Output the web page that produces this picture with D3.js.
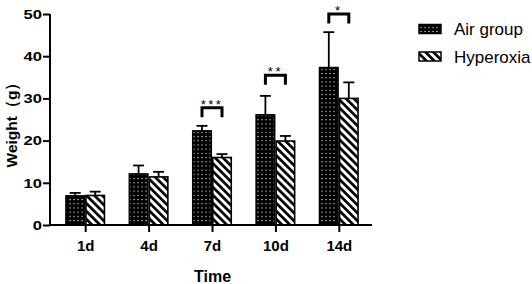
<!DOCTYPE html>
<html>
<head>
<meta charset="utf-8">
<script src="https://cdn.jsdelivr.net/npm/d3@7"></script>
<style>
  html, body { margin: 0; padding: 0; background: #fff; }
  svg { display: block; font-family: Arial, "Liberation Sans", sans-serif; }
</style>
</head>
<body>
<svg id="chart" width="532" height="284"></svg>
<script>
const categories = ["1d", "4d", "7d", "10d", "14d"];
const seriesNames = ["Air group", "Hyperoxia"];
const airMean = [6.9, 12.1, 22.3, 26.1, 37.3];
const airSD   = [0.7, 2.0, 1.2, 4.5, 8.4];
const hypMean = [7.0, 11.4, 16.0, 19.9, 30.0];
const hypSD   = [0.9, 1.2, 0.8, 1.2, 3.8];
const yTicks = [0, 10, 20, 30, 40, 50];
const sigCategories = ["7d", "10d", "14d"];
const sigLabels = ["***", "**", "*"];
const sigLevel = [27.8, 35.5, 50];

const svg = d3.select("#chart");
const defs = svg.append("defs");

// dotted pattern (Air group)
const pd = defs.append("pattern").attr("id", "dots")
  .attr("patternUnits", "userSpaceOnUse").attr("width", 4).attr("height", 4.2);
pd.append("rect").attr("width", 4).attr("height", 4.2).attr("fill", "#000");
pd.append("rect").attr("x", 1.5).attr("y", 1.6).attr("width", 1.1).attr("height", 1.1).attr("fill", "#fff");

// diagonal stripes (Hyperoxia)
const ps = defs.append("pattern").attr("id", "stripes")
  .attr("patternUnits", "userSpaceOnUse").attr("width", 5.6).attr("height", 5.6)
  .attr("patternTransform", "rotate(-45)");
ps.append("rect").attr("width", 5.6).attr("height", 5.6).attr("fill", "#fff");
ps.append("rect").attr("width", 2.7).attr("height", 5.6).attr("fill", "#000");

const fills = ["url(#dots)", "url(#stripes)"];

const y = d3.scaleLinear().domain([0, 50]).range([225, 14]);
const x = d3.scalePoint().domain(categories).range([53.5, 370.5]).padding(0.5);
const xs = d3.scaleBand().domain(seriesNames).range([-20, 20]).padding(0);

const data = [];
categories.forEach((c, i) => {
  data.push({cat: c, s: seriesNames[0], v: airMean[i], sd: airSD[i]});
  data.push({cat: c, s: seriesNames[1], v: hypMean[i], sd: hypSD[i]});
});

// error bars (behind bars)
const eb = svg.append("g").attr("stroke", "#000").attr("stroke-width", 1.8);
data.forEach(d => {
  const cx = x(d.cat) + xs(d.s) + xs.bandwidth() / 2;
  eb.append("line").attr("x1", cx).attr("x2", cx).attr("y1", y(d.v)).attr("y2", y(d.v + d.sd));
  eb.append("line").attr("x1", cx - 5.5).attr("x2", cx + 5.5).attr("y1", y(d.v + d.sd)).attr("y2", y(d.v + d.sd));
});

// bars
svg.append("g").selectAll("rect").data(data).join("rect")
  .attr("x", d => x(d.cat) + xs(d.s) + 0.75)
  .attr("y", d => y(d.v))
  .attr("width", xs.bandwidth() - 1.5)
  .attr("height", d => y(0) - y(d.v))
  .attr("fill", d => fills[seriesNames.indexOf(d.s)])
  .attr("stroke", "#000").attr("stroke-width", 1.6);

// axes
const yAxis = svg.append("g").attr("transform", "translate(50,0)")
  .call(d3.axisLeft(y).tickValues(yTicks).tickSize(7).tickFormat(d3.format("d")));
yAxis.select(".domain").attr("d", `M0,${y(50)}V${y(0)}`).attr("stroke-width", 2);
yAxis.selectAll(".tick line").attr("stroke-width", 2);
yAxis.selectAll(".tick text").remove();
yAxis.selectAll(".tick").append("text")
  .attr("transform", "translate(-8,0) scale(1.38,1)")
  .attr("text-anchor", "end").attr("dy", "0.36em")
  .attr("fill", "#000").attr("font-size", 12).attr("font-weight", "bold")
  .attr("font-family", "Arial, 'Liberation Sans', sans-serif")
  .text(d => d);

const xAxis = svg.append("g").attr("transform", `translate(0,${y(0)})`)
  .call(d3.axisBottom(x).tickSize(7));
xAxis.select(".domain").attr("d", "M49,0H372").attr("stroke-width", 2);
xAxis.selectAll(".tick line").attr("stroke-width", 2);
xAxis.selectAll(".tick text")
  .attr("y", 26).attr("dy", 0)
  .attr("fill", "#000").attr("font-size", 15).attr("font-weight", "bold")
  .attr("font-family", "Arial, 'Liberation Sans', sans-serif");

// axis titles
svg.append("text").attr("x", 212.5).attr("y", 282)
  .attr("text-anchor", "middle").attr("font-size", 16).attr("font-weight", "bold")
  .text("Time");
svg.append("text").attr("transform", "translate(17,121) rotate(-90)")
  .attr("text-anchor", "middle").attr("font-size", 15.5).attr("font-weight", "bold")
  .text("Weight（g）");

// significance brackets
const sg = svg.append("g");
sigCategories.forEach((c, i) => {
  const x1 = x(c) - 10, x2 = x(c) + 10, yt = y(sigLevel[i]);
  sg.append("path").attr("d", `M${x1},${yt + 9.5}V${yt}H${x2}V${yt + 9.5}`)
    .attr("fill", "none").attr("stroke", "#000").attr("stroke-width", 3);
  sg.append("text").attr("x", x(c)).attr("y", yt + 1)
    .attr("text-anchor", "middle").attr("font-size", 13).attr("letter-spacing", 2.5)
    .text(sigLabels[i]);
});

// legend
const lg = svg.append("g").attr("transform", "translate(419,0)");
seriesNames.forEach((s, i) => {
  const cy = 29 + i * 27.5;
  lg.append("rect").attr("x", 0).attr("y", cy - 4.5).attr("width", 22).attr("height", 9)
    .attr("fill", fills[i]).attr("stroke", "#000").attr("stroke-width", 1.5);
  lg.append("text").attr("x", 35).attr("y", cy + 6)
    .attr("font-size", 17).text(s);
});
</script>
</body>
</html>
